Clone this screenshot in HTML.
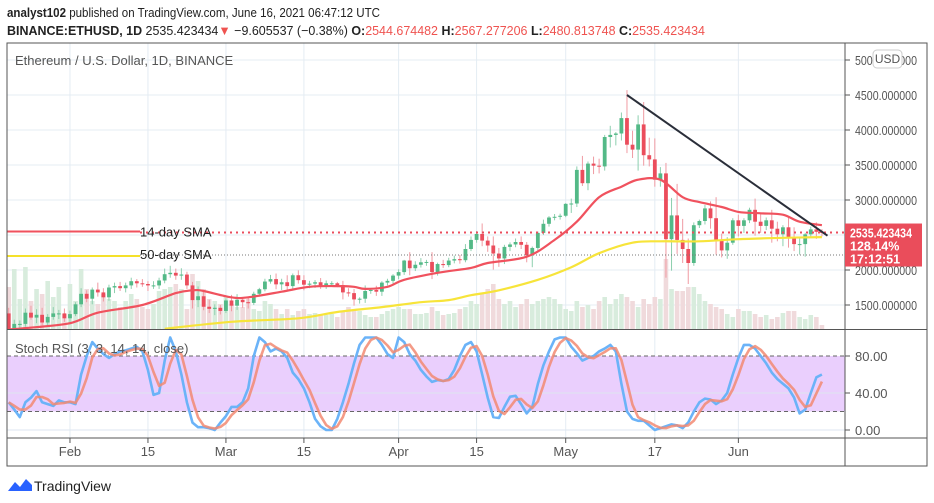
<!DOCTYPE html>
<html><head><meta charset="utf-8"><style>
html,body{margin:0;padding:0;background:#fff;}
svg{display:block;font-family:"Liberation Sans",sans-serif;}
</style></head><body>
<svg id="chart" width="934" height="503" viewBox="0 0 934 503" xmlns="http://www.w3.org/2000/svg">
<text x="7" y="17" font-size="13" fill="#222" textLength="373" lengthAdjust="spacingAndGlyphs"><tspan font-weight="bold">analyst102</tspan> published on TradingView.com, June 16, 2021 06:47:12 UTC</text>
<text x="7" y="35" font-size="13" fill="#222" textLength="698" lengthAdjust="spacingAndGlyphs"><tspan font-weight="bold">BINANCE:ETHUSD, 1D</tspan> 2535.423434<tspan fill="#ef5350">▼</tspan> −9.605537 (−0.38%) <tspan font-weight="bold">O:</tspan><tspan fill="#ef5350">2544.674482</tspan> <tspan font-weight="bold">H:</tspan><tspan fill="#ef5350">2567.277206</tspan> <tspan font-weight="bold">L:</tspan><tspan fill="#ef5350">2480.813748</tspan> <tspan font-weight="bold">C:</tspan><tspan fill="#ef5350">2535.423434</tspan></text>
<defs>
<clipPath id="mainClip"><rect x="7" y="44" width="838" height="285"/></clipPath>
<clipPath id="stochClip"><rect x="7" y="331" width="838" height="107"/></clipPath>
</defs>
<g id="grid"></g>
<g id="volume" clip-path="url(#mainClip)"></g>
<g id="candles" clip-path="url(#mainClip)"></g>
<g id="overlay" clip-path="url(#mainClip)"></g>
<g id="stoch"></g>
<g id="axes"></g>
<g>
<path d="M8 491 l7 -9 l5 5 l6 -8 l6 6 l0 6 z" fill="#2962ff"/>
<text x="34" y="491" font-size="14" fill="#222">TradingView</text>
</g>
</svg>
<script>
const NS="http://www.w3.org/2000/svg";
const dayLabels=["Feb","15","Mar","15","Apr","15","May","17","Jun"];
const dayLabelIdx=[11,25,39,53,70,84,100,116,131];
const priceTicks=[1500,2000,2500,3000,3500,4000,4500];
const stochTicks=[0,40,80];
const closes=[1110,1230,1230,1390,1320,1360,1250,1330,1380,1380,1310,
1370,1510,1660,1590,1720,1680,1610,1750,1770,1740,1780,1840,1810,1800,1780,1780,1850,1940,1960,1920,1935,1780,1570,1625,1475,1445,1460,1415,
1565,1490,1575,1540,1530,1660,1725,1835,1870,1795,1825,1770,1925,1855,1790,1805,1825,1780,1810,1810,1785,1680,1670,1580,1590,1700,1715,1690,1820,1845,1920,
1970,2135,2025,2075,2110,2115,1970,2085,2070,2135,2155,2140,2300,2430,2515,2420,2350,2235,2165,2330,2365,2400,2360,2210,2315,2530,2660,2750,2760,2775,
2945,2950,3430,3240,3520,3490,3480,3900,3930,3950,4170,3790,3720,4080,3640,3580,3290,3380,2440,2780,2430,2300,2100,2640,2700,2880,2740,2420,2280,2390,2710,
2630,2710,2860,2690,2630,2710,2590,2510,2610,2470,2370,2370,2510,2580,2545,2535];
const wickUp=[80,60,50,60,100,80,100,40,90,50,70,
50,30,80,50,30,100,60,40,50,60,40,50,30,60,40,60,40,80,100,60,90,40,50,140,80,100,50,40,
30,80,80,40,60,30,20,40,60,80,50,100,25,70,70,40,30,60,40,30,20,60,60,60,20,80,20,60,20,30,20,
40,10,120,50,60,30,140,20,60,40,50,60,70,50,40,150,60,130,80,30,30,50,80,40,20,20,60,20,40,30,
10,70,50,200,30,100,100,30,130,20,80,400,200,130,320,250,300,90,150,250,450,300,150,40,20,50,100,300,100,80,30,
80,30,30,160,120,40,150,100,30,150,140,100,20,40,100,40];
const wickDn=[70,100,70,40,30,80,40,60,40,80,50,
90,30,40,50,80,60,60,50,80,40,60,50,60,40,80,50,50,40,50,60,60,50,120,100,50,60,90,50,
30,80,60,80,80,30,40,30,30,70,80,50,60,50,80,50,60,50,50,40,30,100,50,90,60,60,40,60,60,40,40,
50,40,100,40,40,50,100,50,40,30,40,50,30,30,40,80,90,230,120,80,60,40,60,100,170,40,30,40,40,40,
20,130,50,40,100,120,100,60,150,150,100,120,120,300,150,100,100,100,550,450,200,200,300,40,40,50,150,200,100,120,30,
150,100,40,200,100,60,200,100,170,150,100,150,180,40,100,55];
const volumes=[42,60,30,62,28,40,35,48,32,42,15,
45,28,60,40,28,25,35,30,28,22,28,35,30,22,20,25,38,40,42,45,40,20,55,48,40,30,28,25,
32,25,22,22,30,20,18,28,25,20,15,20,14,18,20,15,16,15,14,15,12,18,22,20,18,14,12,12,15,18,20,
22,20,20,15,15,16,22,18,14,15,16,20,22,28,25,35,40,45,30,25,28,22,25,30,25,28,30,32,30,25,
20,18,28,22,24,20,28,32,25,30,35,32,28,22,30,25,32,30,70,40,38,38,42,42,35,28,25,22,20,15,12,
20,18,18,15,12,14,10,12,16,18,18,12,10,14,12,4];
const stochK=[30,22,14,30,35,42,30,28,26,32,30,
30,28,60,80,95,88,82,78,82,85,86,88,90,85,65,38,40,75,100,85,60,30,8,3,3,2,0,8,
15,25,25,30,45,80,100,95,85,88,85,78,62,55,45,30,12,4,0,0,12,30,50,72,92,100,100,100,92,82,78,
100,95,82,75,65,58,52,54,53,55,65,80,92,95,85,60,35,14,13,25,36,37,28,18,25,50,70,85,98,100,
100,90,83,75,78,80,85,88,92,85,50,20,12,10,10,5,0,2,4,6,5,2,8,20,30,34,33,28,32,40,60,
78,92,92,88,80,72,62,55,50,45,35,18,22,40,57,60];
const sma14Idx=[0,3,11,16,24,30,33,35,40,43,49,54,59,62,64,68,71,77,83,86,93,98,102,106,110,113,117,121,124,128,131,135,139,142,146];
const sma14Vals=[1150,1170,1240,1390,1500,1670,1710,1700,1610,1610,1690,1760,1770,1760,1730,1760,1860,1960,2030,2100,2190,2430,2690,3040,3190,3290,3290,3040,2970,2900,2830,2810,2790,2690,2640];
const sma50Idx=[28,40,52,59,67,74,79,83,88,95,101,106,112,117,124,131,139,146];
const sma50Vals=[1160,1260,1310,1400,1470,1540,1570,1640,1710,1860,2040,2240,2390,2410,2410,2440,2460,2470];
const firstOpen=1380;
const lastPrice=2535.423434;
const hLine2=2215;
const trendStart=[111,4500], trendEnd=[147,2490];

const X0=8.7, DX=5.57;
function xOf(i){return X0+i*DX;}
function yP(p){return 95+(4500-p)*0.07;}
function yS(v){return 430-v*0.925;}
function mk(tag,attrs,parent){const e=document.createElementNS(NS,tag);for(const k in attrs)e.setAttribute(k,attrs[k]);parent.appendChild(e);return e;}
const grid=document.getElementById('grid'),vol=document.getElementById('volume'),cg=document.getElementById('candles'),ov=document.getElementById('overlay'),st=document.getElementById('stoch'),ax=document.getElementById('axes');

dayLabelIdx.forEach(i=>{
  const l=mk('line',{x1:xOf(i),x2:xOf(i),y1:43,y2:438,stroke:'#e4ecf3','stroke-width':1},grid);
  
  
});
[5000].concat(priceTicks).forEach(p=>{
  const l=mk('line',{x1:7,x2:845,y1:yP(p),y2:yP(p),stroke:'#e4ecf3','stroke-width':1},grid);
  
  
});
closes.forEach((c,i)=>{
  const o=i===0?firstOpen:closes[i-1];
  const r=mk('rect',{x:xOf(i)-2.3,y:329-volumes[i],width:4.6,height:volumes[i],fill:c>=o?'#d8ecdd':'#f0dadc'},vol);
  
  
});
closes.forEach((c,i)=>{
  const o=i===0?firstOpen:closes[i-1];
  const up=c>=o, col=up?'#53b987':'#eb4d5c';
  const hi=Math.max(o,c)+wickUp[i], lo=Math.min(o,c)-wickDn[i];
  const w=mk('line',{x1:xOf(i),x2:xOf(i),y1:yP(hi),y2:yP(lo),stroke:up?'#8ccfae':'#f09aa2','stroke-width':1},cg);
  
  
  const t=yP(Math.max(o,c)), b=yP(Math.min(o,c));
  const r=mk('rect',{x:xOf(i)-1.9,y:t,width:3.8,height:Math.max(1,b-t),fill:col},cg);
  
  
});
function pathOf(pts){return pts.map((p,j)=>(j?'L':'M')+p[0].toFixed(1)+' '+p[1].toFixed(1)).join(' ');}
function smooth(pts){let d='M'+pts[0][0].toFixed(1)+' '+pts[0][1].toFixed(1);
  for(let j=1;j<pts.length;j++){const p0=pts[j-2]||pts[j-1],p1=pts[j-1],p2=pts[j],p3=pts[j+1]||p2;
    const c1=[p1[0]+(p2[0]-p0[0])/6,p1[1]+(p2[1]-p0[1])/6],c2=[p2[0]-(p3[0]-p1[0])/6,p2[1]-(p3[1]-p1[1])/6];
    d+=' C'+c1[0].toFixed(1)+' '+c1[1].toFixed(1)+' '+c2[0].toFixed(1)+' '+c2[1].toFixed(1)+' '+p2[0].toFixed(1)+' '+p2[1].toFixed(1);}
  return d;}
let e;
e=mk('line',{x1:7,x2:140,y1:yP(lastPrice)-1,y2:yP(lastPrice)-1,stroke:'#f0525e','stroke-width':2},ov);


e=mk('line',{x1:140,x2:845,y1:yP(lastPrice),y2:yP(lastPrice),stroke:'#eb4d5c','stroke-width':2,'stroke-dasharray':'2 4'},ov);


e=mk('line',{x1:7,x2:140,y1:yP(hLine2)+1,y2:yP(hLine2)+1,stroke:'#f5e12a','stroke-width':2},ov);


e=mk('line',{x1:140,x2:845,y1:yP(hLine2),y2:yP(hLine2),stroke:'#777','stroke-width':1,'stroke-dasharray':'1 2'},ov);


e=mk('path',{d:smooth(sma50Idx.map((i,j)=>[xOf(i),yP(sma50Vals[j])])),fill:'none',stroke:'#f7e43a','stroke-width':2.2},ov);


e=mk('path',{d:smooth(sma14Idx.map((i,j)=>[xOf(i),yP(sma14Vals[j])])),fill:'none',stroke:'#f0525e','stroke-width':2.2},ov);


e=mk('line',{x1:xOf(trendStart[0]),y1:yP(trendStart[1]),x2:xOf(trendEnd[0]),y2:yP(trendEnd[1]),stroke:'#2a2e39','stroke-width':2},ov);


e=mk('text',{x:140,y:yP(lastPrice)+4,'font-size':13,fill:'#222'},ov);e.textContent='14-day SMA';


e=mk('text',{x:140,y:yP(hLine2)+4,'font-size':13,fill:'#222'},ov);e.textContent='50-day SMA';


e=mk('text',{x:15,y:65,'font-size':13,fill:'#555'},ov);e.textContent='Ethereum / U.S. Dollar, 1D, BINANCE';



e=mk('rect',{x:7,y:yS(80),width:838,height:yS(20)-yS(80),fill:'#eacffd'},st);


[0,40].forEach(v=>{e=mk('line',{x1:7,x2:845,y1:yS(v),y2:yS(v),stroke:'#dde6f0'},st);

});
[20,80].forEach(v=>{e=mk('line',{x1:7,x2:845,y1:yS(v),y2:yS(v),stroke:'#666','stroke-dasharray':'4 3'},st);

});
const kp=stochK.map((v,i)=>[xOf(i),yS(v)]);
const dp=stochK.map((v,i)=>{const a=stochK.slice(Math.max(0,i-2),i+1);return [xOf(i),yS(a.reduce((s,x)=>s+x,0)/a.length)];});
const sg=mk('g',{'clip-path':'url(#stochClip)'},st);
e=mk('path',{d:pathOf(kp),fill:'none',stroke:'#6bb3f8','stroke-width':2.6,'stroke-linejoin':'round'},sg);


e=mk('path',{d:pathOf(dp),fill:'none',stroke:'#f28a72','stroke-width':2.6,'stroke-opacity':0.85,'stroke-linejoin':'round'},sg);


e=mk('text',{x:15,y:353,'font-size':13,fill:'#555'},st);e.textContent='Stoch RSI (3, 3, 14, 14, close)';



e=mk('rect',{x:7,y:43,width:920,height:423,fill:'none',stroke:'#555','stroke-width':1},ax);


e=mk('line',{x1:845,x2:845,y1:43,y2:466,stroke:'#555'},ax);


e=mk('line',{x1:7,x2:927,y1:329.5,y2:329.5,stroke:'#555'},ax);


e=mk('line',{x1:7,x2:927,y1:438,y2:438,stroke:'#555'},ax);


[5000].concat(priceTicks).forEach(p=>{
  const t=mk('line',{x1:845,x2:850,y1:yP(p),y2:yP(p),stroke:'#555'},ax);
  
  
  const l=mk('text',{x:855,y:yP(p)+5,'font-size':13,fill:'#555',textLength:62,lengthAdjust:'spacingAndGlyphs'},ax);l.textContent=p.toFixed(6);
  
  
});
stochTicks.forEach(v=>{
  const t=mk('line',{x1:845,x2:850,y1:yS(v),y2:yS(v),stroke:'#555'},ax);
  
  
  const l=mk('text',{x:855,y:yS(v)+5,'font-size':13,fill:'#555'},ax);l.textContent=v.toFixed(2);
  
  
});
dayLabels.forEach((s,j)=>{
  const x=xOf(dayLabelIdx[j]);
  const t=mk('line',{x1:x,x2:x,y1:438,y2:443,stroke:'#555'},ax);
  
  
  const l=mk('text',{x:x,y:456,'font-size':13,fill:'#555','text-anchor':'middle'},ax);l.textContent=s;
  
  
});
e=mk('rect',{x:873,y:50,width:29,height:18,rx:4,fill:'#fff',stroke:'#ccc'},ax);


e=mk('text',{x:887.5,y:63,'font-size':12,fill:'#555','text-anchor':'middle'},ax);e.textContent='USD';


const py=yP(lastPrice);
e=mk('rect',{x:845,y:py-9,width:77,height:43,fill:'#ea4d5b'},ax);


[[lastPrice.toFixed(6),py+5,62],['128.14%',py+18,0],['17:12:51',py+31,0]].forEach(a=>{
  const at={x:850,y:a[1],'font-size':12.5,'font-weight':'bold',fill:'#fff'};
  if(a[2]){at.textLength=a[2];at.lengthAdjust='spacingAndGlyphs';}
  const l=mk('text',at,ax);l.textContent=a[0];
  
  
});
</script>
</body></html>
